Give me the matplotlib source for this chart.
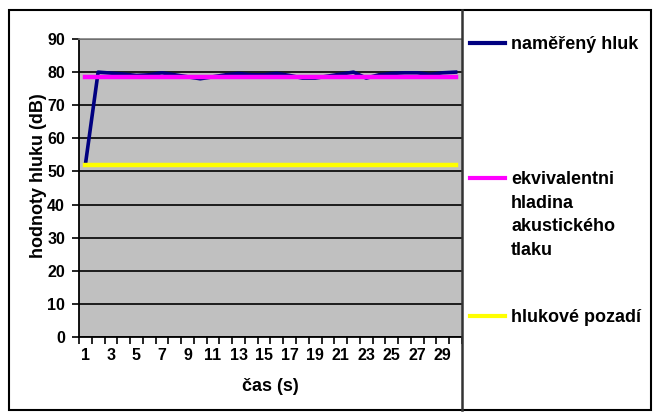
#!/usr/bin/env python3

import matplotlib
matplotlib.use('Agg')
import matplotlib.pyplot as plt
from matplotlib.lines import Line2D
from matplotlib.patches import Rectangle

# measured noise over 30 seconds, plus equivalent level and background
cas = list(range(1, 31))
nameren_hluk = [52.0, 80.0, 79.7, 79.4, 79.0, 79.2, 79.8, 79.2, 78.6, 78.0,
                78.6, 79.2, 79.6, 79.2, 79.2, 79.6, 79.0, 78.2, 78.2, 78.8,
                79.4, 80.0, 78.2, 79.2, 79.6, 79.8, 79.8, 79.3, 79.8, 80.0]
ekvivalentni_hladina = [78.6] * 30
hlukove_pozadi = [52.0] * 30

x_ticklabels = [str(c) if c % 2 == 1 else '' for c in cas]
y_ticks = list(range(0, 91, 10))

labels = ['naměřený hluk',
          'ekvivalentni\nhladina\nakustického\ntlaku',
          'hlukové pozadí']
colors = ['#000080', '#FF00FF', '#FFFF00']

plt.rcParams['font.family'] = ['Liberation Sans', 'DejaVu Sans']
plt.rcParams['font.weight'] = 'bold'

fig = plt.figure(figsize=(6.57, 4.16), dpi=100)
fig.patch.set_facecolor('white')

ax = fig.add_axes([0.1202, 0.1899, 0.5830, 0.7163])
ax.set_facecolor('#C0C0C0')

ax.plot(cas, nameren_hluk, color=colors[0], lw=2.6, zorder=3)
ax.plot(cas, ekvivalentni_hladina, color=colors[1], lw=3.2, zorder=4)
ax.plot(cas, hlukove_pozadi, color=colors[2], lw=3.2, zorder=4)

ax.set_xlim(0.5, 30.5)
ax.set_ylim(0, 90)
ax.set_yticks(y_ticks)
ax.yaxis.grid(True, color='black', lw=1.2)
ax.set_axisbelow(True)

# category axis: ticks between categories, labels on every other one
ax.set_xticks([c + 0.5 for c in range(0, 31)])
ax.set_xticklabels([])
ax.set_xticks(cas, minor=True)
ax.set_xticklabels(x_ticklabels, minor=True)
ax.tick_params(axis='x', which='major', direction='out', length=5,
               width=1.2, color='black')
ax.tick_params(axis='x', which='minor', length=0, pad=8, labelsize=11.5)
ax.tick_params(axis='y', direction='out', length=5, width=1.2,
               pad=5, labelsize=11.5)

for side in ['left', 'bottom']:
    ax.spines[side].set_color('black')
    ax.spines[side].set_linewidth(1.3)
ax.spines['top'].set_color('#808080')
ax.spines['top'].set_linewidth(1.2)
ax.spines['right'].set_visible(False)

ax.set_xlabel('čas (s)', fontsize=13, fontweight='bold', labelpad=11)
ax.set_ylabel('hodnoty hluku (dB)', fontsize=13, fontweight='bold')
ax.yaxis.set_label_coords(-0.084, 0.54)

# outer chart frame and the divider next to the legend
fig.patches.append(Rectangle((0.0137, 0.0144), 0.9772, 0.9616,
                             transform=fig.transFigure, fill=False,
                             edgecolor='black', lw=1.5))
fig.lines.append(Line2D([0.7032, 0.7032], [0.0144, 0.976],
                        transform=fig.transFigure, color='#333333', lw=1.8))

# legend, drawn by hand: line next to the first row of each label
legend_y = [1 - 43 / 416, 1 - 178 / 416, 1 - 316 / 416]
for lab, col, y in zip(labels, colors, legend_y):
    fig.lines.append(Line2D([470 / 657, 505 / 657], [y, y],
                            transform=fig.transFigure, color=col, lw=3))
    for i, part in enumerate(lab.split('\n')):
        fig.text(511 / 657, y - 0.004 - i * 23.5 / 416, part, fontsize=13,
                 fontweight='bold', ha='left', va='center')

fig.savefig('out.png', dpi=100)
